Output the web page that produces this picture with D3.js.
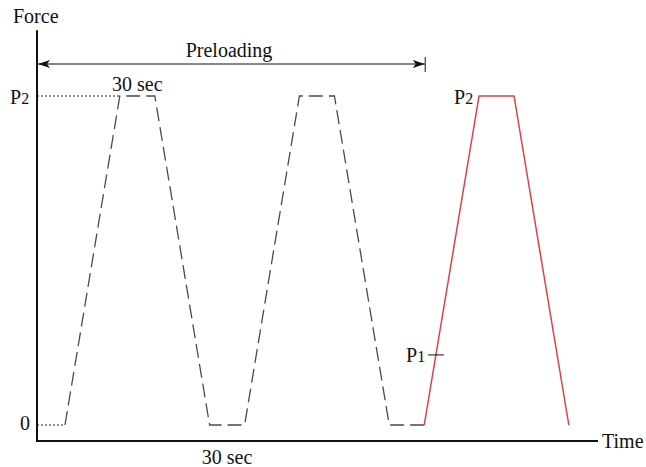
<!DOCTYPE html>
<html>
<head>
<meta charset="utf-8">
<script src="https://cdn.jsdelivr.net/npm/d3@7"></script>
<style>
  body { margin: 0; background: #fff; }
  text { font-family: "Liberation Serif", "Times New Roman", serif; fill: #111; }
</style>
</head>
<body>
<svg id="chart"></svg>
<script>
// time in seconds (approx.), force relative to P2
const preloadTime = [24, 71, 101, 148, 178, 225, 255, 302, 332];
const preloadForce = [0, 1, 1, 0, 0, 1, 1, 0, 0];
const testTime = [332, 379, 409, 456];
const testForce = [0, 1, 1, 0];
const p1Force = 0.213;
const forceMax = 1.2;
const timeMax = 481;
const holdStart = [71, 148];   // the two "30 sec" holds that get a label
const preloadEnd = 332;

const width = 646, height = 467;

const svg = d3.select("#chart")
    .attr("width", width)
    .attr("height", height);

const x = d3.scaleLinear().domain([0, timeMax]).range([37, 598]);
const y = d3.scaleLinear().domain([0, 1]).range([425, 96]);

// arrow markers
const defs = svg.append("defs");
function marker(id, path) {
    defs.append("marker")
        .attr("id", id)
        .attr("viewBox", "0 0 12 8")
        .attr("refX", id == "arrowEnd" ? 12 : 0)
        .attr("refY", 4)
        .attr("markerWidth", 12)
        .attr("markerHeight", 8)
        .attr("markerUnits", "userSpaceOnUse")
        .attr("orient", "0")
        .append("path")
        .attr("d", path)
        .attr("fill", "#111");
}
marker("arrowEnd", "M0,0 L12,4 L0,8 L3,4 Z");
marker("arrowStart", "M12,0 L0,4 L12,8 L9,4 Z");

// dotted reference lines for 0 and P2
svg.append("line")
    .attr("x1", x(0)).attr("x2", x(preloadTime[0]))
    .attr("y1", y(0)).attr("y2", y(0))
    .attr("stroke", "#222").attr("stroke-width", 1)
    .attr("stroke-dasharray", "2,2");
svg.append("line")
    .attr("x1", x(0)).attr("x2", x(preloadTime[1]))
    .attr("y1", y(1)).attr("y2", y(1))
    .attr("stroke", "#222").attr("stroke-width", 1)
    .attr("stroke-dasharray", "2,2");

const line = d3.line()
    .x(d => x(d[0]))
    .y(d => y(d[1]));

// preloading cycles (dashed)
svg.append("path")
    .datum(d3.zip(preloadTime, preloadForce))
    .attr("d", line)
    .attr("fill", "none")
    .attr("stroke", "#4a4a4a")
    .attr("stroke-width", 1.3)
    .attr("stroke-dasharray", "14,6");

// test cycle (red)
svg.append("path")
    .datum(d3.zip(testTime, testForce))
    .attr("d", line)
    .attr("fill", "none")
    .attr("stroke", "#d9424a")
    .attr("stroke-width", 1.5);

// P1 tick on the red rise
const p1Time = testTime[0] + (testTime[1] - testTime[0]) * p1Force;
svg.append("line")
    .attr("x1", x(p1Time) - 8).attr("x2", x(p1Time) + 8)
    .attr("y1", y(p1Force)).attr("y2", y(p1Force))
    .attr("stroke", "#111").attr("stroke-width", 1);

// axes
svg.append("line")
    .attr("x1", x(0)).attr("x2", x(0))
    .attr("y1", y(forceMax)).attr("y2", 441)
    .attr("stroke", "#111").attr("stroke-width", 2);
svg.append("line")
    .attr("x1", x(0) - 1).attr("x2", x(timeMax))
    .attr("y1", 441).attr("y2", 441)
    .attr("stroke", "#111").attr("stroke-width", 2);

// preloading span arrow
svg.append("line")
    .attr("x1", x(0) + 1).attr("x2", x(preloadEnd + 0.5))
    .attr("y1", 64).attr("y2", 64)
    .attr("stroke", "#111").attr("stroke-width", 1)
    .attr("marker-start", "url(#arrowStart)")
    .attr("marker-end", "url(#arrowEnd)");
svg.append("line")
    .attr("x1", x(preloadEnd) + 1).attr("x2", x(preloadEnd) + 1)
    .attr("y1", 57).attr("y2", 72)
    .attr("stroke", "#111").attr("stroke-width", 1);

// texts
function label(tx, ty, main, sub, anchor) {
    const t = svg.append("text")
        .attr("x", tx).attr("y", ty)
        .attr("font-size", 20)
        .attr("text-anchor", anchor || "start")
        .text(main);
    if (sub) {
        t.append("tspan").attr("font-size", 16).text(sub);
    }
    return t;
}
label(13, 23, "Force");
label(602, 448, "Time");
label(229, 57, "Preloading", null, "middle");
label(x((holdStart[0] + preloadTime[2]) / 2), 91, "30 sec", null, "middle");
label(x((holdStart[1] + preloadTime[4]) / 2), 464, "30 sec", null, "middle");
label(10, 104, "P", "2");
label(20, 430, "0");
label(454, 104, "P", "2");
label(406, 362, "P", "1");
</script>
</body>
</html>
